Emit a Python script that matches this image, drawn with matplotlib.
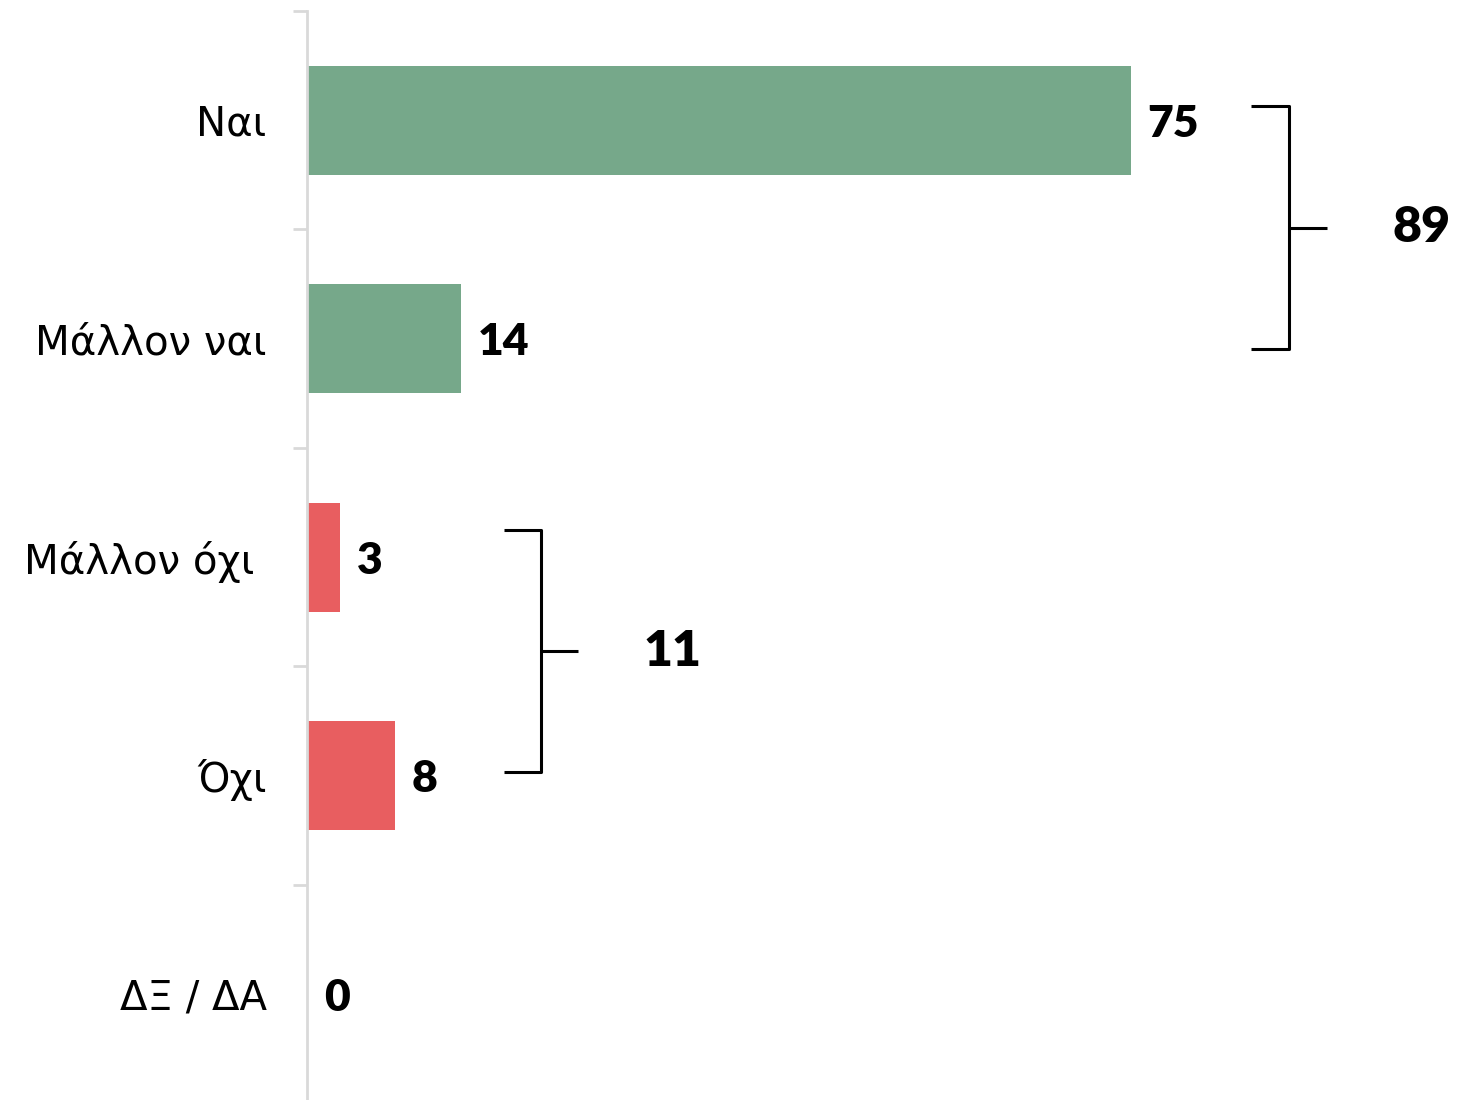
import matplotlib
matplotlib.use("Agg")
import matplotlib.pyplot as plt

categories = ["Ναι", "Μάλλον ναι", "Μάλλον όχι ", "Όχι", "ΔΞ / ΔΑ"]
values = [75, 14, 3, 8, 0]
colors = ["#76A88A", "#76A88A", "#E85E60", "#E85E60", "#E85E60"]
group_totals = [89, 11]

plt.rcParams['font.family'] = ['DejaVu Sans']
num_font = ['Lato', 'DejaVu Sans']

W, H = 1458, 1100
fig = plt.figure(figsize=(W / 100, H / 100), dpi=100)
left_px = 307
ax = fig.add_axes([left_px / W, -0.003, 1 - left_px / W, (1100 - 11) / H + 0.003])

y = list(range(len(categories)))
ax.barh(y, values, height=0.5, color=colors)
px_per_unit = 10.987
ax.set_xlim(0, (W - left_px) / px_per_unit)
ax.set_ylim(4.5, -0.5)

for s in ["top", "right", "bottom"]:
    ax.spines[s].set_visible(False)
ax.spines["left"].set_color("#D9D9D9")
ax.spines["left"].set_linewidth(2)
ax.set_xticks([])
ax.set_yticks(y)
ax.set_yticklabels(categories, fontsize=29, family=['DejaVu Sans'])
ax.tick_params(axis="y", which="major", length=0, pad=29)
ax.set_yticks([i - 0.5 for i in range(len(categories) + 1)], minor=True)
ax.tick_params(axis="y", which="minor", length=10, width=2, color="#D9D9D9")

for i, v in enumerate(values):
    ax.annotate(str(v), (v, i), xytext=(12, -2.5), textcoords="offset points",
                va="center", ha="left", fontsize=32, fontweight="heavy",
                family=num_font)

def bracket(x_in, x_v, x_out, y0, y1, x_text, total):
    kw = dict(color="black", lw=2.2, solid_capstyle="butt")
    ax.plot([x_in, x_v, x_v, x_in], [y0, y0, y1, y1], **kw)
    ym = (y0 + y1) / 2
    ax.plot([x_v, x_out], [ym, ym], **kw)
    ax.text(x_text, ym, str(total), ha="center", va="center",
            fontsize=36, fontweight="heavy", family=num_font)

bracket(85.9, 89.4, 92.8, -0.065, 1.048, 101.4, group_totals[0])
bracket(17.9, 21.3, 24.7, 1.876, 2.984, 33.3, group_totals[1])

fig.savefig("out.png", dpi=100)
